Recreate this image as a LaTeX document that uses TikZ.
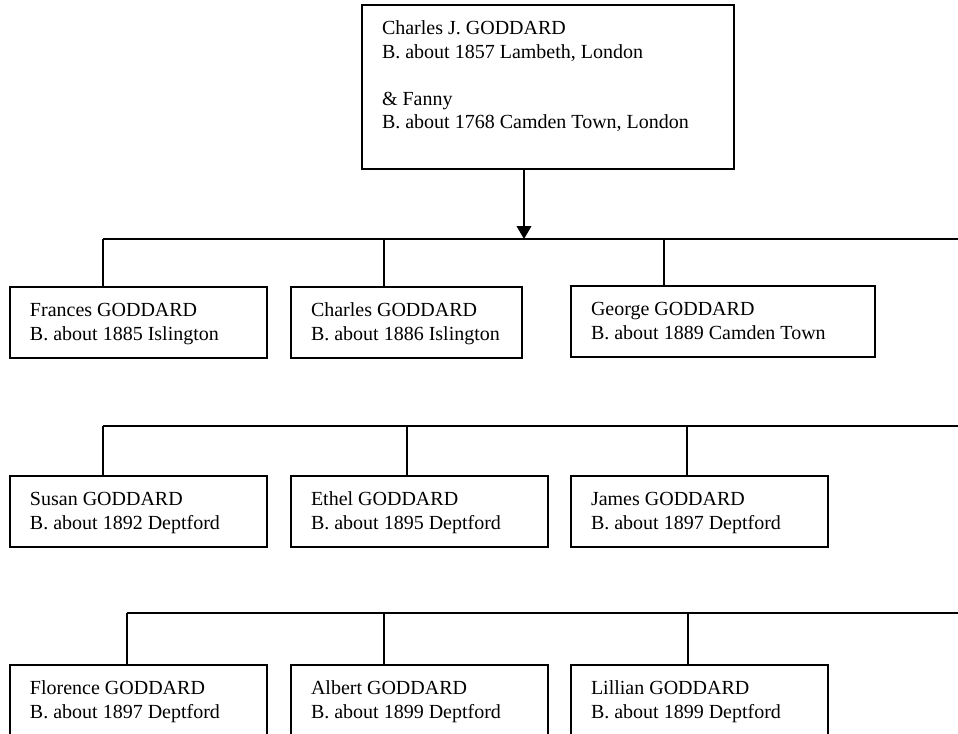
\documentclass[tikz,border=0pt]{standalone}
\usepackage{fontspec}
\setmainfont{Liberation Serif}
\usetikzlibrary{arrows.meta}
\newcommand\pcontent[3]{\parbox[c][#2][t]{#1}{\vspace*{9.8pt}\strut #3}}
\begin{document}
\begin{tikzpicture}[x=0.75pt,y=-0.75pt,
  person/.style={draw, line width=1.4pt, rectangle, anchor=north west,
    inner xsep=15pt, inner ysep=0pt, outer sep=0pt,
    font=\fontsize{15pt}{17.7pt}\selectfont},
  link/.style={line width=1.3pt},
  arrowlink/.style={line width=1.3pt, -{Triangle[width=11pt,length=9.75pt]}}]
\useasboundingbox (0,0) rectangle (958,733);

% parents
\node[person] (top) at (362,5) {\pcontent{249pt}{123pt}{Charles J. GODDARD\\B. about 1857 Lambeth, London\\[17.7pt]\& Fanny\\B. about 1768 Camden Town, London}};

% row 1
\node[person] (frances) at (10,287) {\pcontent{162.75pt}{53.25pt}{Frances GODDARD\\B. about 1885 Islington}};
\node[person] (charles) at (291,287) {\pcontent{143.25pt}{53.25pt}{Charles GODDARD\\B. about 1886 Islington}};
\node[person] (george) at (571,286) {\pcontent{198pt}{53.25pt}{George GODDARD\\B. about 1889 Camden Town}};

% row 2
\node[person] (susan) at (10,476) {\pcontent{162.75pt}{53.25pt}{Susan GODDARD\\B. about 1892 Deptford}};
\node[person] (ethel) at (291,476) {\pcontent{162.75pt}{53.25pt}{Ethel GODDARD\\B. about 1895 Deptford}};
\node[person] (james) at (571,476) {\pcontent{162.75pt}{53.25pt}{James GODDARD\\B. about 1897 Deptford}};

% row 3
\node[person] (florence) at (10,665) {\pcontent{162.75pt}{53.25pt}{Florence GODDARD\\B. about 1897 Deptford}};
\node[person] (albert) at (291,665) {\pcontent{162.75pt}{53.25pt}{Albert GODDARD\\B. about 1899 Deptford}};
\node[person] (lillian) at (571,665) {\pcontent{162.75pt}{53.25pt}{Lillian GODDARD\\B. about 1899 Deptford}};

% junction coordinates
\coordinate (j0) at (524,239);
\coordinate (a1) at (103,239);
\coordinate (b1) at (384,239);
\coordinate (c1) at (664,239);
\coordinate (e1) at (962,239);
\coordinate (a2) at (103,426);
\coordinate (b2) at (407,426);
\coordinate (c2) at (687,426);
\coordinate (e2) at (962,426);
\coordinate (a3) at (127,613);
\coordinate (b3) at (384,613);
\coordinate (c3) at (688,613);
\coordinate (e3) at (962,613);

% connectors
\draw[arrowlink] (top.south -| j0) -- (j0);
\draw[link] (a1) -- (e1);
\draw[link] (a1) -- (a1 |- frances.north);
\draw[link] (b1) -- (b1 |- charles.north);
\draw[link] (c1) -- (c1 |- george.north);

\draw[link] (a2) -- (e2);
\draw[link] (a2) -- (a2 |- susan.north);
\draw[link] (b2) -- (b2 |- ethel.north);
\draw[link] (c2) -- (c2 |- james.north);

\draw[link] (a3) -- (e3);
\draw[link] (a3) -- (a3 |- florence.north);
\draw[link] (b3) -- (b3 |- albert.north);
\draw[link] (c3) -- (c3 |- lillian.north);
\end{tikzpicture}
\end{document}
